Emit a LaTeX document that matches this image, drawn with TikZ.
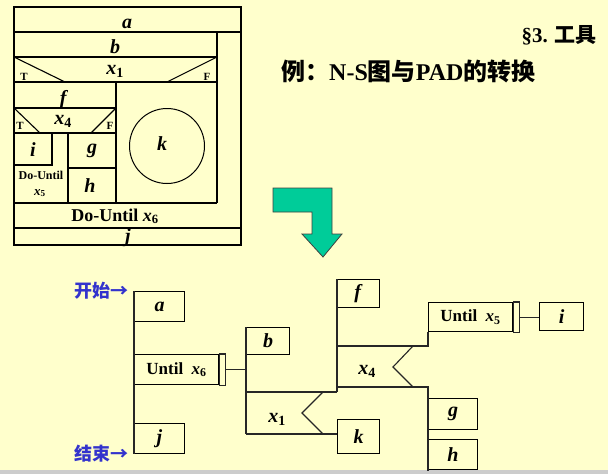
\documentclass[tikz,border=0pt]{standalone}
\usepackage{fontspec}
\setmainfont{Liberation Serif}
\newfontfamily\cjk{Noto Sans CJK SC}
\usetikzlibrary{positioning, calc}
\definecolor{slide}{HTML}{FFFFCC}
\definecolor{arrowgreen}{HTML}{00CC99}
\definecolor{tagblue}{HTML}{3333CC}
\newcommand{\xsub}[1]{\textit{x}\textsubscript{#1}}

\begin{document}
\begin{tikzpicture}[
    x=1pt, y=-1pt,
    nsline/.style={line width=1.1pt},
    nslabel/.style={anchor=base, inner sep=0pt, font=\fontsize{20}{20}\selectfont\bfseries},
    nstext/.style={anchor=base, inner sep=0pt, font=\fontsize{18}{18}\selectfont\bfseries},
    tf/.style={anchor=base, inner sep=0pt, font=\fontsize{11}{11}\selectfont\bfseries},
    padbox/.style={rectangle, draw, line width=1.1pt, anchor=north west, inner sep=0pt, font=\fontsize{20}{20}\selectfont\bfseries},
    untilbox/.style={padbox, font=\fontsize{17}{17}\selectfont\bfseries},
    padline/.style={line width=1.1pt, draw=black!85},
    padlabel/.style={inner sep=0pt, font=\fontsize{20}{20}\selectfont\bfseries},
    entrytag/.style={anchor=east, inner sep=0pt, text=tagblue, font=\fontsize{18}{18}\selectfont\cjk\bfseries}
]
\useasboundingbox (0,0) rectangle (608,474);
\fill[slide] (0,0) rectangle (608,474);
\fill[gray!40] (0,470) rectangle (608,474);

% N-S chart
\draw[nsline] (14,7) rectangle (241,245);
\draw[nsline] (14,32) -- (241,32);
\draw[nsline] (217,32) -- (217,203);
\draw[nsline] (14,57) -- (217,57);
\draw[nsline] (14,82) -- (217,82);
\draw[nsline] (14,57) -- (65,82);
\draw[nsline] (217,57) -- (167,82);
\draw[nsline] (116,82) -- (116,203);
\draw[nsline] (14,108) -- (116,108);
\draw[nsline] (14,133) -- (116,133);
\draw[nsline] (14,108) -- (40,133);
\draw[nsline] (116,108) -- (91,133);
\draw[nsline] (14,165) -| (52,133);
\draw[nsline] (68,133) -- (68,203);
\draw[nsline] (68,168) -- (116,168);
\draw[nsline] (14,203) -- (217,203);
\draw[nsline] (14,228) -- (241,228);
\draw[line width=1pt] (167,146) circle[radius=37.5];

\node[nslabel] (nsa) at (127,28) {\textit{a}};
\node[nslabel] (nsb) at (115,53) {\textit{b}};
\node[nslabel] (nsx1) at (115,74) {\xsub{1}};
\node[tf] (nst1) at (24,80) {T};
\node[tf] (nsf1) at (207,80) {F};
\node[nslabel] (nsf) at (64,104) {\textit{f}};
\node[nslabel] (nsx4) at (63,124) {\xsub{4}};
\node[tf] (nst4) at (20,129) {T};
\node[tf] (nsf4) at (110,129) {F};
\node[nslabel] (nsi) at (33,156) {\textit{i}};
\node[nslabel] (nsg) at (92,153) {\textit{g}};
\node[nslabel] (nsh) at (90,192) {\textit{h}};
\node[anchor=base, inner sep=0pt, font=\fontsize{12}{12}\selectfont\bfseries] (nsdo5) at (41,179) {Do-Until};
\node[anchor=base, inner sep=0pt, font=\fontsize{13}{13}\selectfont\bfseries] (nsx5) at (40,195) {\xsub{5}};
\node[nstext] (nsdo6) at (115,221) {Do-Until \xsub{6}};
\node[nslabel] (nsj) at (128,242) {\textit{j}};
\node[nslabel] (nsk) at (162,150) {\textit{k}};

% title
\node[anchor=east, inner sep=0pt, font=\fontsize{21}{21}\selectfont\bfseries] (sec) at (597,35) {§3. {\cjk 工具}};
\node[anchor=west, inner sep=0pt, font=\fontsize{24}{24}\selectfont\bfseries] (title) at (281,71) {{\cjk 例：}N-S{\cjk 图与}PAD{\cjk 的转换}};

% arrow
\draw[fill=arrowgreen, draw=black!75, line width=0.8pt]
  (273,188) -- (332,188) -- (332,234) -- (342,234) -- (323,257) -- (302,234)
  -- (312,234) -- (312,212) -- (273,212) -- cycle;

% PAD
\node[padbox, minimum width=50pt, minimum height=30pt] (a) at (134,291) {\textit{a}};
\node[untilbox, minimum width=84pt, minimum height=30pt] (u6) at (134,354) {Until\ \ \xsub{6}};
\draw[padline] (u6.north east) rectangle ([xshift=6pt]u6.south east);
\node[padbox, minimum width=50pt, minimum height=30pt] (j) at (134,423) {\textit{j}};
\draw[padline] (a.north west) -- (j.south west);

\node[padbox, minimum width=43pt, minimum height=27pt] (b) at (246,327) {\textit{b}};
\draw[padline] ([xshift=6pt]u6.east) -- (u6.east -| b.west);
\coordinate (x1top) at (246,392);
\coordinate (x1bot) at (246,434);
\draw[padline] (b.north west) -- (x1bot);
\node[padlabel] (x1) at (277,419) {\xsub{1}};

\node[padbox, minimum width=42pt, minimum height=28pt] (f) at (337,279) {\textit{f}};
\node[padbox, minimum width=42pt, minimum height=34pt] (k) at (337,419) {\textit{k}};
\draw[padline] (f.north west) -- (x1top -| f.west);
\draw[padline] (x1top) -- (x1top -| f.west);
\draw[padline] (x1bot) -- (x1bot -| k.west);
\draw[padline] ($(x1top -| f.west)+(-14,0)$) -- ++(-21,21) -- ($(x1bot -| k.west)+(-14,0)$);

\node[untilbox, minimum width=84pt, minimum height=29pt] (u5) at (428,302) {Until\ \ \xsub{5}};
\draw[padline] (u5.north east) rectangle ([xshift=6pt]u5.south east);
\node[padbox, minimum width=44pt, minimum height=28pt] (i) at (539,302) {\textit{i}};
\draw[padline] ([xshift=6pt]u5.east) -- (u5.east -| i.west);
\node[padbox, minimum width=49pt, minimum height=31pt] (g) at (428,398) {\textit{g}};
\node[padbox, minimum width=49pt, minimum height=30pt] (h) at (428,439) {\textit{h}};
\coordinate (x4top) at (337,346);
\coordinate (x4bot) at (337,387);
\draw[padline] (x4top) -- (x4top -| u5.west) -- (u5.south west);
\draw[padline] (x4bot) -- (x4bot -| g.west) -- ([yshift=-1pt]h.south west);
\draw[padline] ($(x4top -| u5.west)+(-15,0)$) -- ++(-20,21) -- ($(x4bot -| g.west)+(-15,0)$);
\node[padlabel] (x4) at (367,371) {\xsub{4}};

\node[entrytag] (begin) at (129,291) {开始→};
\node[entrytag] (finish) at (129,454) {结束→};
\end{tikzpicture}
\end{document}
